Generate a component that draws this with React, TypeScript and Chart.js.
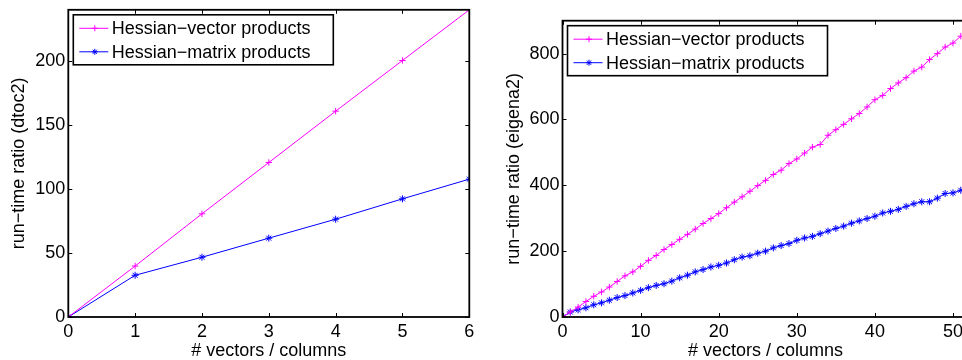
import React, { useEffect, useRef } from "react";
import { Chart, registerables } from "chart.js";

Chart.register(...registerables);

const FONT = "'Liberation Sans', Arial, Helvetica, sans-serif";

// ---- Left panel (dtoc2) ----
const leftX = [0, 1, 2, 3, 4, 5, 6];
const leftVector = [0, 39.8, 80.6, 120.7, 160.8, 200.4, 240];
const leftMatrix = [0, 32.6, 46.7, 61.6, 76.4, 92.3, 107.7];
const leftXTicks = [0, 1, 2, 3, 4, 5, 6];
const leftYTicks = [0, 50, 100, 150, 200];

// ---- Right panel (eigena2) ----
const rightX = [
  0, 1, 2, 3, 4, 5, 6, 7, 8, 9, 10, 11, 12, 13, 14, 15, 16, 17, 18, 19, 20,
  21, 22, 23, 24, 25, 26, 27, 28, 29, 30, 31, 32, 33, 34, 35, 36, 37, 38, 39,
  40, 41, 42, 43, 44, 45, 46, 47, 48, 49, 50, 51,
];
const rightVector = [
  0, 15, 30, 47, 63, 76, 91, 108, 125, 137, 154, 172, 187, 205, 220, 236, 251,
  267, 284, 299, 314, 332, 349, 365, 382, 399, 415, 433, 446, 466, 480, 498,
  516, 524, 552, 569, 585, 602, 618, 638, 660, 673, 694, 711, 727, 747, 759,
  782, 800, 820, 832, 853,
];
const rightMatrix = [
  0, 15, 22, 28, 37, 43, 51, 59, 65, 73, 81, 89, 96, 101, 109, 119, 127, 137,
  144, 152, 157, 164, 174, 182, 186, 194, 200, 210, 217, 223, 233, 240, 245,
  253, 261, 269, 276, 285, 292, 299, 306, 316, 321, 327, 336, 344, 350, 350,
  361, 375, 377, 385,
];
const rightXTicks = [0, 10, 20, 30, 40, 50];
const rightYTicks = [0, 200, 400, 600, 800];

const seriesNames = ["Hessian\u2212vector products", "Hessian\u2212matrix products"];
const seriesColors = ["#ff00ff", "#0000ff"];
const seriesMarkers = ["cross", "star"];
const xTitle = "# vectors / columns";

function drawMarker(ctx: CanvasRenderingContext2D, kind: string, x: number, y: number, r: number) {
  ctx.beginPath();
  ctx.moveTo(x - r, y);
  ctx.lineTo(x + r, y);
  ctx.moveTo(x, y - r);
  ctx.lineTo(x, y + r);
  if (kind === "star") {
    const d = r * 0.7071;
    ctx.moveTo(x - d, y - d);
    ctx.lineTo(x + d, y + d);
    ctx.moveTo(x - d, y + d);
    ctx.lineTo(x + d, y - d);
  }
  ctx.stroke();
}

const matlabAxes = {
  id: "matlabAxes",
  afterDatasetsDraw(chart: any) {
    const { ctx, chartArea: a, scales } = chart;
    ctx.save();
    ctx.strokeStyle = "#000";
    ctx.lineWidth = 1;
    const tl = 4;
    ctx.beginPath();
    scales.x.ticks.forEach((t: any) => {
      const px = Math.round(scales.x.getPixelForValue(t.value)) + 0.5;
      ctx.moveTo(px, a.bottom);
      ctx.lineTo(px, a.bottom - tl);
      ctx.moveTo(px, a.top);
      ctx.lineTo(px, a.top + tl);
    });
    scales.y.ticks.forEach((t: any) => {
      const py = Math.round(scales.y.getPixelForValue(t.value)) + 0.5;
      ctx.moveTo(a.left, py);
      ctx.lineTo(a.left + tl, py);
      ctx.moveTo(a.right, py);
      ctx.lineTo(a.right - tl, py);
    });
    ctx.stroke();
    ctx.lineWidth = 1.8;
    ctx.strokeRect(a.left, a.top, a.right - a.left, a.bottom - a.top);

    // legend
    const lx = a.left + 5;
    const ly = a.top + 5;
    const lw = 260;
    const lh = 50;
    ctx.fillStyle = "#fff";
    ctx.fillRect(lx, ly, lw, lh);
    ctx.lineWidth = 1.6;
    ctx.strokeStyle = "#000";
    ctx.strokeRect(lx, ly, lw, lh);
    ctx.font = `18px ${FONT}`;
    ctx.textBaseline = "middle";
    ctx.textAlign = "left";
    chart.data.datasets.forEach((ds: any, i: number) => {
      const cy = ly + 13.5 + i * 23.5;
      ctx.strokeStyle = ds.borderColor;
      ctx.lineWidth = 1;
      ctx.beginPath();
      ctx.moveTo(lx + 6, cy);
      ctx.lineTo(lx + 35, cy);
      ctx.stroke();
      ctx.lineWidth = ds.pointBorderWidth;
      drawMarker(ctx, ds.pointStyle, lx + 21.5, cy, 3);
      ctx.fillStyle = "#000";
      ctx.fillText(ds.label, lx + 38.5, cy + 1);
    });
    ctx.restore();
  },
};

function makeConfig(
  xs: number[],
  a: number[],
  b: number[],
  xMax: number,
  yMax: number,
  xTicks: number[],
  yTicks: number[],
  yTitle: string,
  padTop: number,
  padRight: number,
  yWidth: number,
  yTitlePad: number
): any {
  const font = { family: FONT, size: 18 };
  const mk = (vals: number[], i: number) => ({
    label: seriesNames[i],
    data: xs.map((x, k) => ({ x, y: vals[k] })),
    borderColor: seriesColors[i],
    backgroundColor: seriesColors[i],
    borderWidth: 1,
    pointStyle: seriesMarkers[i],
    pointRadius: i === 1 ? 3.5 : 3.2,
    pointBorderWidth: 1,
    pointBorderColor: seriesColors[i],
    pointBackgroundColor: seriesColors[i],
    tension: 0,
  });
  return {
    type: "line",
    data: { datasets: [mk(a, 0), mk(b, 1)] },
    options: {
      animation: false,
      responsive: false,
      maintainAspectRatio: false,
      events: [],
      layout: { padding: { top: padTop, right: padRight, left: 0, bottom: 0 } },
      plugins: { legend: { display: false }, tooltip: { enabled: false } },
      scales: {
        x: {
          type: "linear",
          min: 0,
          max: xMax,
          grid: { display: false, drawTicks: false },
          border: { display: false },
          ticks: { font, color: "#000", padding: 4, maxRotation: 0, autoSkip: false },
          afterBuildTicks: (s: any) => {
            s.ticks = xTicks.map((v) => ({ value: v }));
          },
          afterFit: (s: any) => {
            s.height = 43;
            s.paddingLeft = 0;
            s.paddingRight = 0;
          },
          title: { display: true, text: xTitle, font, color: "#000", padding: { top: 0, bottom: -2 } },
        },
        y: {
          type: "linear",
          min: 0,
          max: yMax,
          grid: { display: false, drawTicks: false },
          border: { display: false },
          ticks: { font, color: "#000", padding: 3, autoSkip: false },
          afterBuildTicks: (s: any) => {
            s.ticks = yTicks.map((v) => ({ value: v }));
          },
          afterFit: (s: any) => {
            s.width = yWidth;
            s.paddingTop = 0;
            s.paddingBottom = 0;
          },
          title: { display: true, text: yTitle, font, color: "#000", padding: { top: yTitlePad, bottom: 0 } },
        },
      },
    },
    plugins: [matlabAxes],
  };
}

export default function App() {
  const leftRef = useRef<HTMLCanvasElement>(null);
  const rightRef = useRef<HTMLCanvasElement>(null);

  useEffect(() => {
    const c1 = new Chart(
      leftRef.current!,
      makeConfig(leftX, leftVector, leftMatrix, 6, 240, leftXTicks, leftYTicks,
        "run\u2212time ratio (dtoc2)", 9.8, 12.7, 68.3, 8)
    );
    const c2 = new Chart(
      rightRef.current!,
      makeConfig(rightX, rightVector, rightMatrix, 52, 900, rightXTicks, rightYTicks,
        "run\u2212time ratio (eigena2)", 20.7, 13.4, 80.5, 21)
    );
    return () => {
      c1.destroy();
      c2.destroy();
    };
  }, []);

  return (
    <div
      style={{
        position: "fixed",
        left: 0,
        top: 0,
        width: 962,
        height: 360,
        overflow: "hidden",
        background: "#fff",
      }}
    >
      <canvas
        ref={leftRef}
        width={482}
        height={360}
        style={{ position: "absolute", left: 0, top: 0, width: 482, height: 360 }}
      />
      <canvas
        ref={rightRef}
        width={500}
        height={360}
        style={{ position: "absolute", left: 482, top: 0, width: 500, height: 360 }}
      />
    </div>
  );
}
